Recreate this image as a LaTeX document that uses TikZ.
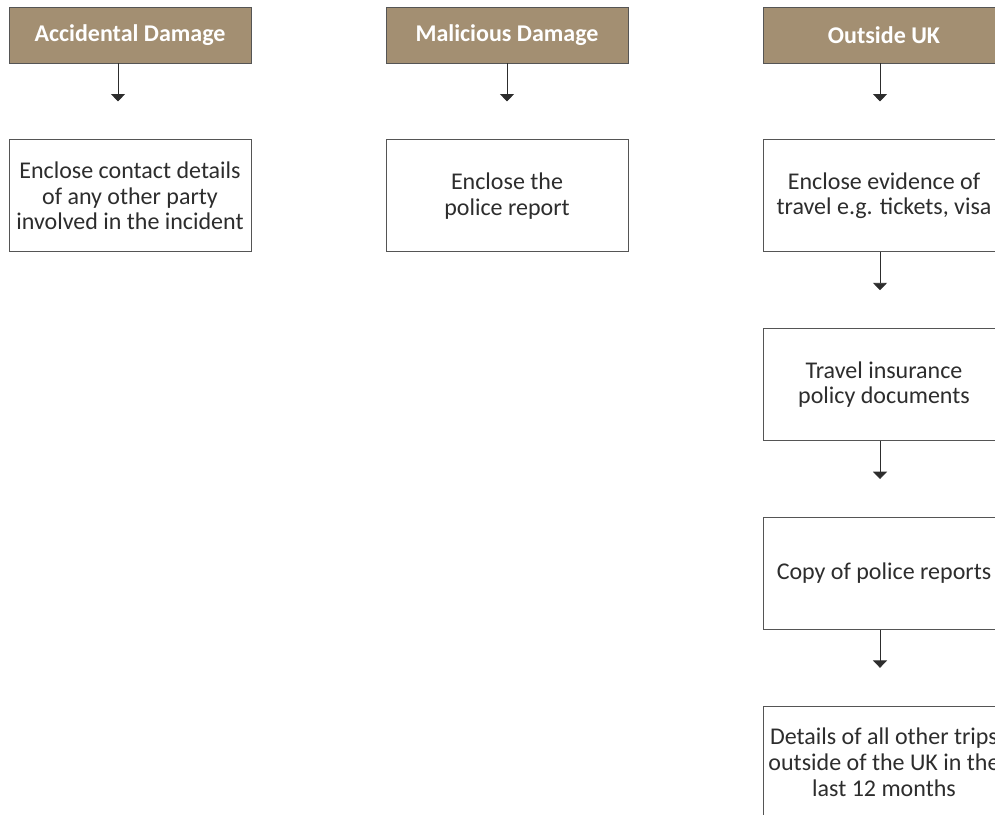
\documentclass[tikz,border=0pt]{standalone}
\usepackage{fontspec}
\setmainfont{Carlito}
\usepackage{tikz}
\usetikzlibrary{arrows.meta,positioning}

\definecolor{claimtan}{RGB}{163,143,114}
\definecolor{boxline}{RGB}{85,85,85}
\definecolor{boxtext}{RGB}{45,45,45}

\begin{document}
\begin{tikzpicture}[x=1pt,y=1pt,node distance=57pt,
  -{Triangle[width=10.5pt,length=5.5pt]}, semithick]

  \tikzstyle{head}=[draw=boxline,fill=claimtan,text=white,font=\fontsize{18}{19}\selectfont\bfseries,
    minimum width=181.5pt,minimum height=42pt,inner sep=0pt]
  \tikzstyle{todo}=[draw=boxline,fill=white,text=boxtext,font=\fontsize{18}{19.2}\selectfont,
    minimum width=181.5pt,minimum height=84pt,inner sep=0pt,align=center]

  \useasboundingbox (0,0) rectangle (746.25,-610.5);
  \clip (0,0) rectangle (746.25,-610.5);

  % headings
  \node[head] (acc) at (97.5,-26.25)  {Accidental Damage};
  \node[head] (mal) at (380.25,-26.25) {Malicious Damage};
  \node[head] (out) at (663,-26.25)   {Outside UK};

  % what to enclose
  \node[todo] (acc1) [below=of acc]  {Enclose contact details\\of any other party\\involved in the incident};
  \node[todo] (mal1) [below=of mal]  {Enclose the\\police report};
  \node[todo] (out1) [below=of out]  {Enclose evidence of\\travel e.g. tickets, visa};
  \node[todo] (out2) [below=of out1] {Travel insurance\\policy documents};
  \node[todo] (out3) [below=of out2] {Copy of police reports};
  \node[todo] (out4) [below=of out3] {Details of all other trips\\outside of the UK in the\\last 12 months};

  % arrows stop short of the next box
  \coordinate (a0) at ([xshift=-9pt]acc.south);
  \coordinate (m0) at (mal.south);
  \coordinate (o0) at ([xshift=-3pt]out.south);
  \coordinate (o1) at ([xshift=-3pt]out1.south);
  \coordinate (o2) at ([xshift=-3pt]out2.south);
  \coordinate (o3) at ([xshift=-3pt]out3.south);

  \draw[color=boxtext] (a0) -- ++(0,-28.5);
  \draw[color=boxtext] (m0) -- ++(0,-28.5);
  \draw[color=boxtext] (o0) -- ++(0,-28.5);
  \draw[color=boxtext] (o1) -- ++(0,-28.5);
  \draw[color=boxtext] (o2) -- ++(0,-28.5);
  \draw[color=boxtext] (o3) -- ++(0,-28.5);
\end{tikzpicture}
\end{document}
